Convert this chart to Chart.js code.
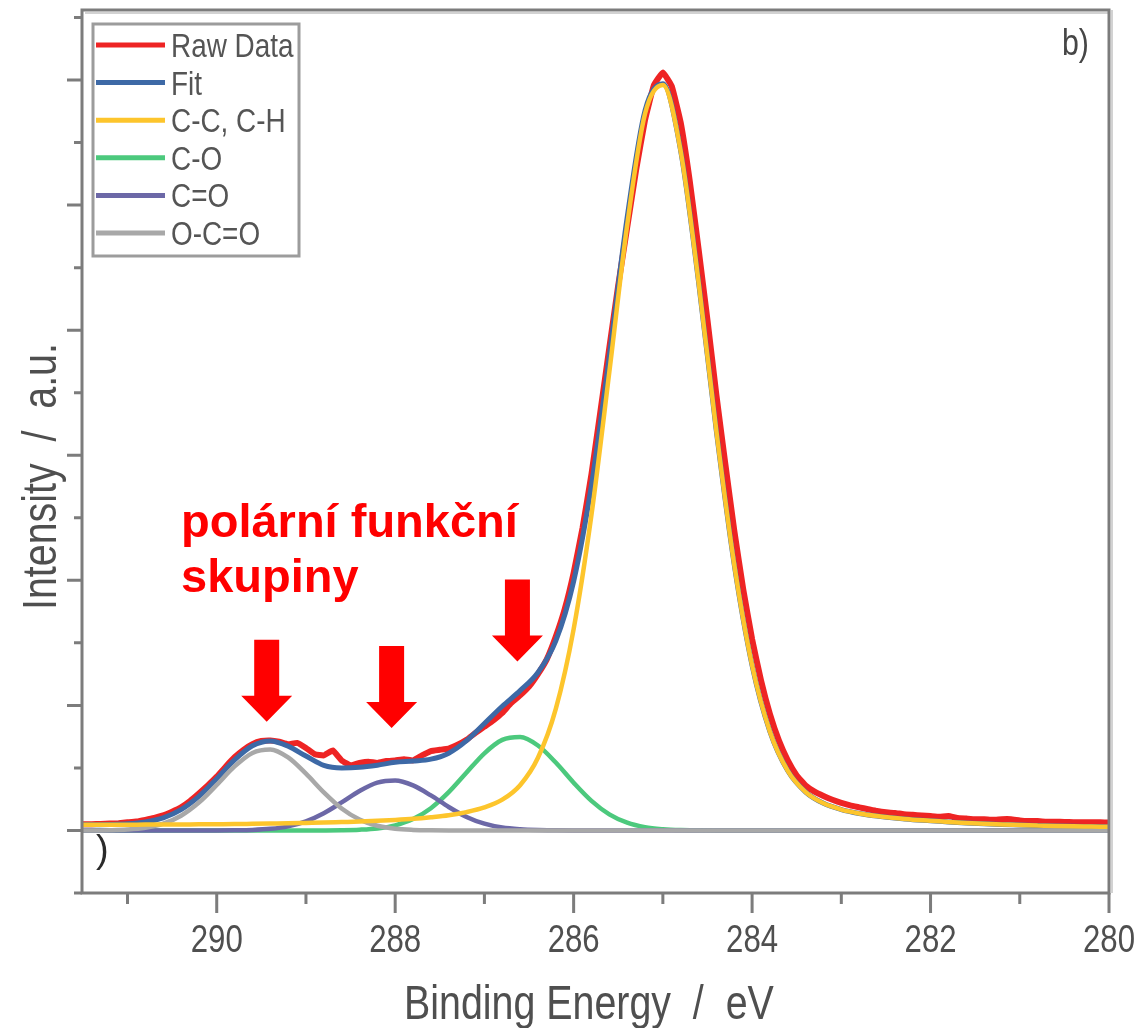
<!DOCTYPE html>
<html>
<head>
<meta charset="utf-8">
<script src="https://cdn.jsdelivr.net/npm/chart.js@4"></script>
<style>
  html, body { margin: 0; padding: 0; background: #fff; }
  #wrap { width: 1140px; height: 1028px; position: relative; }
</style>
</head>
<body>
<div id="wrap"><canvas id="xps"></canvas></div>
<script>
// C 1s spectrum (intensity in a.u., 1 unit = one major y tick)
const rawEnergy = [
  291.5, 291.4, 291.3, 291.2, 291.1, 291.0, 290.9, 290.8, 290.7, 290.6,
  290.5, 290.4, 290.3, 290.2, 290.1, 290.0, 289.9, 289.8, 289.7, 289.6,
  289.5, 289.4, 289.3, 289.2, 289.1, 289.0, 288.9, 288.8, 288.7, 288.6,
  288.5, 288.4, 288.3, 288.2, 288.1, 288.0, 287.9, 287.8, 287.7, 287.6,
  287.5, 287.4, 287.3, 287.2, 287.1, 287.0, 286.9, 286.8, 286.7, 286.6,
  286.5, 286.4, 286.3, 286.2, 286.1, 286.0, 285.9, 285.8, 285.7, 285.6,
  285.5, 285.4, 285.3, 285.2, 285.1, 285.0, 284.9, 284.8, 284.7, 284.6,
  284.5, 284.4, 284.3, 284.2, 284.1, 284.0, 283.9, 283.8, 283.7, 283.6,
  283.5, 283.4, 283.3, 283.2, 283.1, 283.0, 282.9, 282.8, 282.7, 282.6,
  282.5, 282.4, 282.3, 282.2, 282.1, 282.0, 281.9, 281.8, 281.7, 281.6,
  281.5, 281.4, 281.3, 281.2, 281.1, 281.0, 280.9, 280.8, 280.7, 280.6,
  280.5, 280.4, 280.3, 280.2, 280.1, 280.0
]
const rawIntensity = [
  0.05, 0.05, 0.052, 0.055, 0.058, 0.065, 0.072, 0.085, 0.10, 0.12,
  0.15, 0.185, 0.235, 0.295, 0.36, 0.43, 0.51, 0.585, 0.645, 0.69,
  0.715, 0.72, 0.71, 0.69, 0.70, 0.66, 0.61, 0.60, 0.64, 0.56,
  0.52, 0.54, 0.55, 0.54, 0.555, 0.56, 0.57, 0.56, 0.60, 0.635,
  0.645, 0.655, 0.685, 0.725, 0.78, 0.83, 0.88, 0.94, 1.02, 1.08,
  1.15, 1.25, 1.37, 1.55, 1.77, 2.06, 2.42, 2.85, 3.35, 3.86,
  4.36, 4.82, 5.28, 5.68, 5.96, 6.06, 5.95, 5.66, 5.20, 4.65,
  4.08, 3.48, 2.93, 2.40, 1.93, 1.53, 1.20, 0.93, 0.72, 0.56,
  0.44, 0.36, 0.31, 0.275, 0.245, 0.22, 0.20, 0.185, 0.17, 0.155,
  0.145, 0.14, 0.13, 0.125, 0.12, 0.115, 0.11, 0.115, 0.10, 0.095,
  0.09, 0.09, 0.085, 0.09, 0.09, 0.08, 0.075, 0.075, 0.07, 0.07,
  0.068, 0.066, 0.065, 0.065, 0.065, 0.063
]

const fitEnergy = [
  291.6, 291.4, 291.2, 291.0, 290.8, 290.6, 290.4, 290.2, 290.0, 289.8,
  289.6, 289.4, 289.2, 289.0, 288.8, 288.6, 288.4, 288.2, 288.0, 287.8,
  287.6, 287.4, 287.2, 287.0, 286.8, 286.6, 286.4, 286.2, 286.0, 285.8,
  285.6, 285.4, 285.2, 285.0, 284.8, 284.6, 284.4, 284.2, 284.0, 283.8,
  283.6, 283.4, 283.2, 283.0, 282.8, 282.6, 282.4, 282.2, 282.0, 281.8,
  281.6, 281.4, 281.2, 281.0, 280.8, 280.6, 280.4, 280.2, 280.0
]
const fitTotal = [
  0.045, 0.046, 0.048, 0.053, 0.068, 0.101, 0.166, 0.272, 0.414, 0.564,
  0.677, 0.716, 0.674, 0.595, 0.52, 0.50, 0.505, 0.522, 0.545, 0.555,
  0.57, 0.618, 0.718, 0.855, 0.993, 1.118, 1.263, 1.516, 1.992, 2.762,
  3.794, 4.902, 5.756, 5.97, 5.433, 4.386, 3.19, 2.125, 1.32, 0.79,
  0.477, 0.307, 0.217, 0.167, 0.136, 0.115, 0.099, 0.086, 0.078, 0.068,
  0.060, 0.054, 0.048, 0.044, 0.040, 0.036, 0.033, 0.031, 0.029
]
const peakCC = [
  0.045, 0.045, 0.046, 0.046, 0.047, 0.047, 0.048, 0.049, 0.050, 0.051,
  0.053, 0.055, 0.057, 0.060, 0.063, 0.067, 0.071, 0.077, 0.084, 0.093,
  0.106, 0.122, 0.147, 0.184, 0.246, 0.362, 0.581, 0.972, 1.61, 2.525,
  3.665, 4.84, 5.73, 5.96, 5.43, 4.385, 3.19, 2.125, 1.32, 0.79,
  0.477, 0.307, 0.217, 0.167, 0.136, 0.115, 0.099, 0.086, 0.078, 0.068,
  0.060, 0.054, 0.048, 0.044, 0.040, 0.036, 0.033, 0.031, 0.029
]
const peakCO = [
  0, 0, 0, 0, 0, 0, 0, 0, 0, 0,
  0, 0, 0, 0, 0.0005, 0.002, 0.006, 0.016, 0.041, 0.091,
  0.178, 0.306, 0.463, 0.617, 0.724, 0.747, 0.679, 0.543, 0.382, 0.237,
  0.129, 0.062, 0.026, 0.010, 0.003, 0.001, 0, 0, 0, 0,
  0, 0, 0, 0, 0, 0, 0, 0, 0, 0,
  0, 0, 0, 0, 0, 0, 0, 0, 0
]
const peakCdO = [
  0, 0, 0, 0, 0, 0, 0, 0, 0, 0.001,
  0.004, 0.013, 0.033, 0.073, 0.138, 0.224, 0.315, 0.382, 0.399, 0.36,
  0.28, 0.188, 0.108, 0.054, 0.023, 0.009, 0.003, 0.001, 0, 0,
  0, 0, 0, 0, 0, 0, 0, 0, 0, 0,
  0, 0, 0, 0, 0, 0, 0, 0, 0, 0,
  0, 0, 0, 0, 0, 0, 0, 0, 0
]
const peakOCO = [
  0, 0.0005, 0.002, 0.007, 0.021, 0.054, 0.118, 0.223, 0.364, 0.512,
  0.62, 0.648, 0.584, 0.454, 0.305, 0.176, 0.088, 0.038, 0.014, 0.0045,
  0.001, 0, 0, 0, 0, 0, 0, 0, 0, 0,
  0, 0, 0, 0, 0, 0, 0, 0, 0, 0,
  0, 0, 0, 0, 0, 0, 0, 0, 0, 0,
  0, 0, 0, 0, 0, 0, 0, 0, 0
]

const xMajorTicks = [290, 288, 286, 284, 282, 280]
const xMinorTicks = [291, 289, 287, 285, 283, 281]
const yMajorTicks = [0, 1, 2, 3, 4, 5, 6]
const yMinorTicks = [-0.5, 0.5, 1.5, 2.5, 3.5, 4.5, 5.5, 6.5]

// arrows marking the polar groups: energy of the arrow and intensity of its tip
const arrowEnergy = [289.44, 288.04, 286.63]
const arrowTip = [0.87, 0.82, 1.35]

const toPoints = (xs, ys) => xs.map((x, i) => ({ x, y: ys[i] }))

const FONT = '"Liberation Sans", Arial, sans-serif'
const GREY_TEXT = '#4f4f4f'

function narrowText(ctx, text, x, y, size, align, color, rot = 0) {
  ctx.save()
  ctx.font = `${size}px ${FONT}`
  ctx.fillStyle = color
  ctx.textAlign = align
  ctx.textBaseline = 'alphabetic'
  ctx.translate(x, y)
  if (rot) ctx.rotate(rot)
  ctx.scale(0.82, 1)
  ctx.fillText(text, 0, 0)
  ctx.restore()
}

function downArrow(ctx, x, tipY) {
  const len = 82, head = 26, shaft = 12.5, wing = 25.5
  ctx.beginPath()
  ctx.moveTo(x - shaft, tipY - len)
  ctx.lineTo(x + shaft, tipY - len)
  ctx.lineTo(x + shaft, tipY - head)
  ctx.lineTo(x + wing, tipY - head)
  ctx.lineTo(x, tipY)
  ctx.lineTo(x - wing, tipY - head)
  ctx.lineTo(x - shaft, tipY - head)
  ctx.closePath()
  ctx.fill()
}

const decorations = {
  id: 'decorations',
  afterDatasetsDraw(chart) {
    const { ctx, chartArea: a, scales: { x, y } } = chart
    ctx.save()

    // frame
    ctx.strokeStyle = '#d2d2d2'
    ctx.lineWidth = 2
    ctx.beginPath()
    ctx.moveTo(a.left + 3, a.top + 3); ctx.lineTo(a.right - 1, a.top + 3)
    ctx.moveTo(a.right + 3, a.top); ctx.lineTo(a.right + 3, a.bottom)
    ctx.stroke()
    ctx.strokeStyle = '#7c7c7c'
    ctx.lineWidth = 3
    ctx.strokeRect(a.left, a.top, a.right - a.left, a.bottom - a.top)

    // ticks
    ctx.lineWidth = 3
    ctx.beginPath()
    xMajorTicks.forEach(v => { const px = x.getPixelForValue(v); ctx.moveTo(px, a.bottom); ctx.lineTo(px, a.bottom + 20) })
    xMinorTicks.forEach(v => { const px = x.getPixelForValue(v); ctx.moveTo(px, a.bottom); ctx.lineTo(px, a.bottom + 11) })
    yMajorTicks.forEach(v => { const py = y.getPixelForValue(v); ctx.moveTo(a.left, py); ctx.lineTo(a.left - 15, py) })
    yMinorTicks.forEach(v => { const py = y.getPixelForValue(v); ctx.moveTo(a.left, py); ctx.lineTo(a.left - 8, py) })
    ctx.stroke()

    // tick labels and axis titles
    xMajorTicks.forEach(v => narrowText(ctx, String(v), x.getPixelForValue(v), 952, 38, 'center', GREY_TEXT))
    narrowText(ctx, 'Binding Energy  /  eV', 404, 1019, 48, 'left', GREY_TEXT)
    narrowText(ctx, 'Intensity  /  a.u.', 56, 610, 48, 'left', GREY_TEXT, -Math.PI / 2)
    narrowText(ctx, 'b)', 1062, 55, 37, 'left', '#464646')
    ctx.font = `38px ${FONT}`
    ctx.fillStyle = '#2a2a2a'
    ctx.textAlign = 'left'
    ctx.fillText(')', 96, 862)

    // legend
    ctx.fillStyle = '#fff'
    ctx.fillRect(93, 24, 206, 232)
    ctx.strokeStyle = '#9c9c9c'
    ctx.lineWidth = 3
    ctx.strokeRect(93, 24, 206, 232)
    chart.data.datasets.forEach((ds, i) => {
      const rowY = 45 + i * 37.6
      ctx.strokeStyle = ds.borderColor
      ctx.lineWidth = 5
      ctx.beginPath(); ctx.moveTo(96, rowY); ctx.lineTo(165, rowY); ctx.stroke()
      narrowText(ctx, ds.label, 171, rowY + 12, 34, 'left', '#555')
    })

    // annotation
    ctx.fillStyle = '#ff0000'
    ctx.font = `bold 47px ${FONT}`
    ctx.textAlign = 'left'
    ctx.fillText('polární funkční', 181, 537)
    ctx.fillText('skupiny', 181, 592)
    arrowEnergy.forEach((e, i) => downArrow(ctx, x.getPixelForValue(e), y.getPixelForValue(arrowTip[i])))

    ctx.restore()
  }
}

// lower order is drawn on top: raw data at the bottom, C-C on top
const line = (label, xs, ys, color, width, order) => ({
  label, data: toPoints(xs, ys), borderColor: color, borderWidth: width,
  pointRadius: 0, fill: false, order, cubicInterpolationMode: 'monotone'
})

new Chart(document.getElementById('xps'), {
  type: 'line',
  data: {
    datasets: [
      { ...line('Raw Data', rawEnergy, rawIntensity, '#ee2424', 6, 3), cubicInterpolationMode: 'default', tension: 0.1 },
      line('Fit', fitEnergy, fitTotal, '#3d69a6', 5, 2),
      line('C-C, C-H', fitEnergy, peakCC, '#fdc52c', 4.5, 0),
      line('C-O', fitEnergy, peakCO, '#4cc97d', 4.5, 1.4),
      line('C=O', fitEnergy, peakCdO, '#6c68a7', 4.5, 1.2),
      line('O-C=O', fitEnergy, peakOCO, '#a8a8a8', 4.5, 1)
    ]
  },
  options: {
    responsive: true,
    maintainAspectRatio: false,
    animation: false,
    layout: { padding: { left: 82, right: 31, top: 10, bottom: 135 } },
    plugins: { legend: { display: false }, tooltip: { enabled: false } },
    scales: {
      x: { type: 'linear', reverse: true, min: 280, max: 291.51, display: false },
      y: { type: 'linear', min: -0.5, max: 6.56, display: false }
    }
  },
  plugins: [decorations]
})
</script>
</body>
</html>
